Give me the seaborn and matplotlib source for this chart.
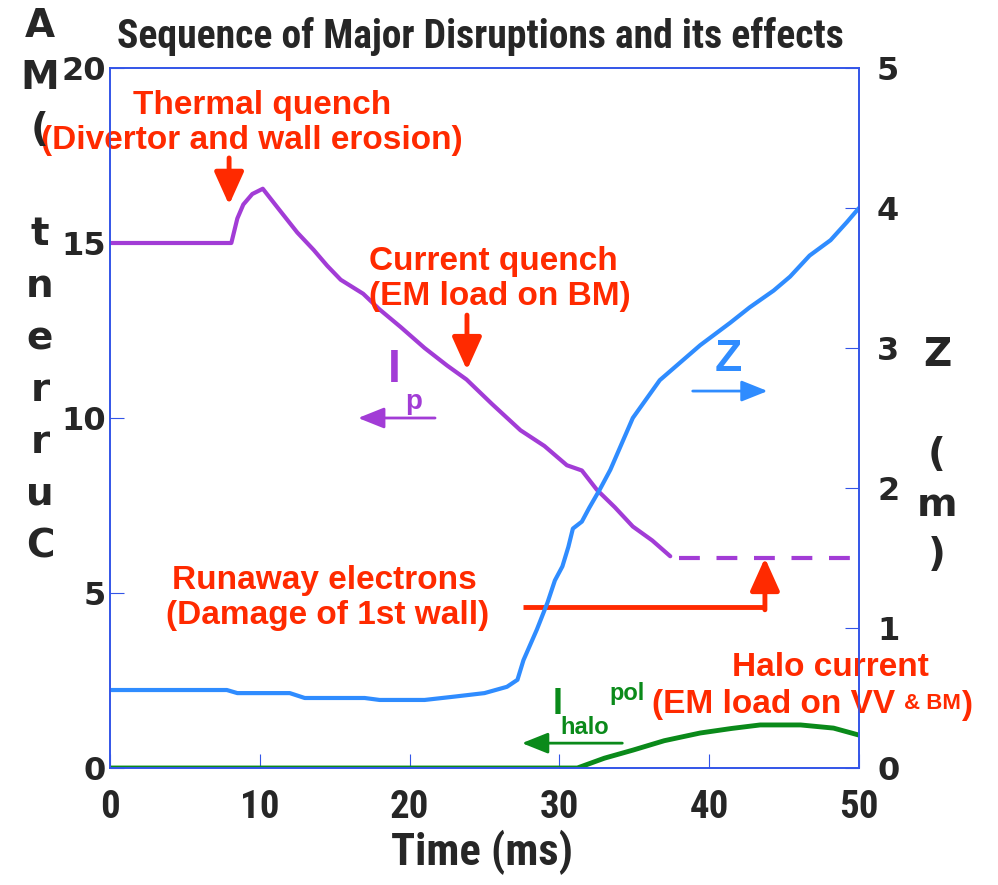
import matplotlib
matplotlib.use("Agg")
import matplotlib.pyplot as plt
import seaborn as sns
from matplotlib import font_manager as fm

sns.set_style('white')

# --- data ---
ip_time = [0, 8.1, 8.5, 8.9, 9.5, 10.2, 11.3, 12.5, 13.6, 14.5, 15.4, 16.9, 18.0, 19.4,
           21.0, 22.5, 23.8, 25.5, 27.4, 29.0, 30.5, 31.5, 32.5, 33.7, 34.9, 36.2, 37.4]
ip_ma = [15.0, 15.0, 15.7, 16.1, 16.4, 16.55, 15.95, 15.3, 14.8, 14.35, 13.95, 13.55, 13.1, 12.6,
         12.0, 11.5, 11.1, 10.4, 9.65, 9.2, 8.65, 8.5, 7.95, 7.45, 6.9, 6.5, 6.05]
runaway_time = [38, 50]
runaway_ma = [6.0, 6.0]

z_time = [0, 7.8, 8.5, 12, 13, 17, 18, 21, 23, 25, 26.5, 27.2, 27.6, 28.5, 29.2, 29.7, 30.2,
          30.6, 30.9, 31.5, 32.0, 32.7, 33.4, 34.9, 36.7, 39.4, 41.4, 42.7, 44.3, 45.4, 46.7,
          48.1, 49.2, 50]
z_m = [0.557, 0.557, 0.535, 0.535, 0.50, 0.50, 0.486, 0.486, 0.51, 0.535, 0.58, 0.63, 0.77,
       0.99, 1.18, 1.34, 1.44, 1.58, 1.71, 1.76, 1.86, 1.99, 2.13, 2.50, 2.77, 3.02, 3.18, 3.29,
       3.41, 3.51, 3.66, 3.77, 3.9, 4.0]

halo_time = [0, 31.2, 33.0, 34.9, 37.0, 39.4, 41.5, 43.4, 46.1, 48.3, 50]
halo_ma = [0, 0, 0.28, 0.51, 0.78, 1.0, 1.13, 1.23, 1.23, 1.14, 0.94]

x_ticks = [0, 10, 20, 30, 40, 50]
left_ticks = [0, 5, 10, 15, 20]
right_ticks = [0, 1, 2, 3, 4, 5]

PURPLE = '#a23cd6'
BLUE = '#2f8cff'
GREEN = '#0a8a1a'
RED = '#ff2a00'
SPINE = '#3355e8'


def weight_of(f):
    w = f.weight
    if isinstance(w, str):
        w = fm.weight_dict.get(w, 400)
    return w


# a bold condensed face for title / x axis (reference uses Arial Narrow Bold)
bold_names = {f.name for f in fm.fontManager.ttflist if weight_of(f) >= 600}
prefs = ['Liberation Sans Narrow', 'Arial Narrow', 'Archivo Narrow', 'Roboto Condensed',
         'Asap Condensed', 'Barlow Semi Condensed', 'Encode Sans Condensed', 'Cabin Condensed',
         'Barlow Condensed']
NARROW = next((n for n in prefs if n in bold_names), 'Liberation Sans')
plt.rcParams['font.family'] = ['Liberation Sans', 'DejaVu Sans']

fig = plt.figure(figsize=(9.98, 8.85), dpi=100)
ax = fig.add_axes([110 / 998, 1 - 768 / 885, 749 / 998, 700 / 885])
ax2 = ax.twinx()

sns.lineplot(x=ip_time, y=ip_ma, ax=ax, color=PURPLE, lw=3)
sns.lineplot(x=runaway_time, y=runaway_ma, ax=ax, color=PURPLE, lw=3)
ax.lines[-1].set_dashes((5, 4))
sns.lineplot(x=halo_time, y=halo_ma, ax=ax, color=GREEN, lw=3.5)
sns.lineplot(x=z_time, y=z_m, ax=ax2, color=BLUE, lw=3)

ax.set_xlim(0, 50)
ax.set_ylim(0, 20)
ax2.set_ylim(0, 5)
ax.set_xticks(x_ticks)
ax.set_yticks(left_ticks)
ax2.set_yticks(right_ticks)
ax.set_xlabel('')
ax.set_ylabel('')
ax2.set_ylabel('')

for a in (ax, ax2):
    for s in a.spines.values():
        s.set_color(SPINE)
        s.set_linewidth(1.2)
ax.tick_params(axis='x', bottom=True, direction='in', length=10, color=SPINE, pad=15)
ax.tick_params(axis='y', left=True, direction='in', length=10, color=SPINE, pad=3)
ax2.tick_params(axis='y', right=True, direction='in', length=10, color=SPINE, pad=13)
for lab in ax.get_yticklabels() + ax2.get_yticklabels():
    lab.set_family('DejaVu Sans')
    lab.set_fontweight('bold')
    lab.set_fontsize(23)
for lab in ax.get_xticklabels():
    lab.set_family(NARROW)
    lab.set_fontweight('bold')
    lab.set_fontsize(28)

fig.text(480 / 998, 1 - 36 / 885, 'Sequence of Major Disruptions and its effects',
         family=NARROW, weight='bold', fontsize=28.5, ha='center', va='center')
fig.text(482 / 998, 1 - 852 / 885, 'Time (ms)', family=NARROW, weight='bold',
         fontsize=32, ha='center', va='center')

# stacked axis titles
for i, ch in enumerate(['A', 'M', '(', ' ', 't', 'n', 'e', 'r', 'r', 'u', 'C']):
    fig.text(40 / 998, 1 - (37 + 52 * i) / 885, ch, family='DejaVu Sans', weight='bold',
             fontsize=28, ha='center', va='baseline')
for i, ch in enumerate(['Z', ' ', '(', 'm', ')']):
    fig.text(937 / 998, 1 - (366 + 50 * i) / 885, ch, family='DejaVu Sans', weight='bold',
             fontsize=28, ha='center', va='baseline')

# red annotations
tk = dict(color=RED, weight='bold', fontsize=24, ha='center', va='center')
ax.text(10.15, 18.94, 'Thermal quench', **tk)
ax.text(9.45, 17.94, '(Divertor and wall erosion)', **tk)
ax.text(25.6, 14.46, 'Current quench', **tk)
ax.text(26.0, 13.46, '(EM load on BM)', **tk)
ax.text(14.3, 5.37, 'Runaway electrons', **tk)
ax.text(14.55, 4.37, '(Damage of 1st wall)', **tk)
ax.text(48.06, 2.86, 'Halo current', clip_on=False, **tk)
t1 = ax.text(36.18, 1.8, '(EM load on VV ', color=RED, weight='bold', fontsize=24,
             ha='left', va='center')
t2 = ax.annotate('& BM', xy=(1, 0.22), xycoords=t1, color=RED, weight='bold', fontsize=16,
                 ha='left', va='bottom')
ax.annotate(')', xy=(1, -0.22 * 24 / 16), xycoords=t2, color=RED, weight='bold', fontsize=24,
            ha='left', va='bottom')

arrow_red = dict(arrowstyle='-|>,head_length=1.0,head_width=0.45', color=RED, lw=3.5,
                 mutation_scale=20, shrinkA=0, shrinkB=0)
ax.annotate('', xy=(7.95, 16.09), xytext=(7.95, 17.43), arrowprops=arrow_red)
ax.annotate('', xy=(23.83, 11.37), xytext=(23.83, 12.94), arrowprops=arrow_red)
ax.plot([27.57, 43.72], [4.6, 4.6], color=RED, lw=3.5, solid_capstyle='butt')
ax.annotate('', xy=(43.72, 6.0), xytext=(43.72, 4.52), arrowprops=arrow_red)

# series labels
ax.text(19.0, 11.37, 'I', color=PURPLE, weight='bold', fontsize=33, ha='center', va='center')
ax.text(20.3, 10.45, 'p', color=PURPLE, weight='bold', fontsize=20, ha='center', va='center')
arrow_thin = dict(arrowstyle='-|>,head_length=1.0,head_width=0.4', lw=2, mutation_scale=16,
                  shrinkA=0, shrinkB=0)
ax.annotate('', xy=(16.56, 10.0), xytext=(21.7, 10.0), arrowprops=dict(color=PURPLE, **arrow_thin))
ax.text(41.25, 11.66, 'Z', color=BLUE, weight='bold', fontsize=32, ha='center', va='center')
ax.annotate('', xy=(43.9, 10.77), xytext=(38.9, 10.77), arrowprops=dict(color=BLUE, **arrow_thin))
ax.text(29.9, 1.8, 'I', color=GREEN, weight='bold', fontsize=26, ha='center', va='center')
ax.text(31.7, 1.17, 'halo', color=GREEN, weight='bold', fontsize=17, ha='center', va='center')
ax.text(34.5, 2.14, 'pol', color=GREEN, weight='bold', fontsize=17, ha='center', va='center')
ax.annotate('', xy=(27.5, 0.71), xytext=(34.2, 0.71), arrowprops=dict(color=GREEN, **arrow_thin))

fig.savefig('out.png', dpi=100)
